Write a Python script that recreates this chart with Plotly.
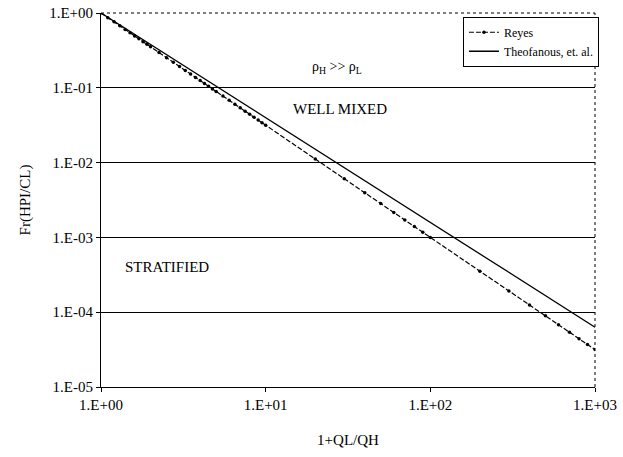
import plotly.graph_objects as go

# Reyes correlation: flow ratio vs. Froude-type number
reyes_x = [1.0, 1.1, 1.2, 1.3, 1.4, 1.5, 1.6, 1.7, 1.8, 1.9, 2.0,
           2.25, 2.5, 2.75, 3.0, 3.25, 3.5, 3.75, 4.0, 4.25, 4.5, 4.75,
           5.0, 5.5, 6.0, 6.5, 7.0, 7.5, 8.0, 8.5, 9.0, 9.5, 10,
           20, 30, 40, 50, 60, 70, 80, 90, 100,
           200, 300, 400, 500, 600, 700, 800, 900, 1000]
reyes_y = [1.0, 0.867, 0.761, 0.675, 0.604, 0.544, 0.494, 0.451, 0.414, 0.382, 0.354,
           0.296, 0.253, 0.219, 0.1925, 0.1707, 0.1527, 0.1377, 0.125, 0.1141, 0.1048, 0.0966,
           0.0894, 0.0775, 0.0680, 0.0603, 0.0540, 0.0487, 0.0442, 0.0404, 0.0370, 0.0342, 0.0316,
           0.01118, 0.00609, 0.00395, 0.00283, 0.00215, 0.00171, 0.00140, 0.00117, 0.00100,
           0.000354, 0.000192, 0.000125, 0.0000894, 0.0000680, 0.0000540, 0.0000442, 0.0000370, 0.0000316]

# Theofanous et al. correlation
theo_x = [1, 2, 5, 10, 20, 50, 100, 200, 500, 1000]
theo_y = [1.0, 0.379, 0.105, 0.0398, 0.0151, 0.00418, 0.00158, 0.000602, 0.000167, 0.0000631]

y_ticks = [1, 1e-1, 1e-2, 1e-3, 1e-4, 1e-5]
y_labels = ["1.E+00", "1.E-01", "1.E-02", "1.E-03", "1.E-04", "1.E-05"]
x_ticks = [1, 10, 100, 1000]
x_labels = ["1.E+00", "1.E+01", "1.E+02", "1.E+03"]

FONT = "Liberation Serif"

fig = go.Figure()
fig.add_trace(go.Scatter(
    x=reyes_x, y=reyes_y, name="Reyes", mode="lines+markers",
    line=dict(color="black", width=1.2, dash="5px,2px"),
    marker=dict(color="black", size=3.5, symbol="circle"),
))
fig.add_trace(go.Scatter(
    x=theo_x, y=theo_y, name="Theofanous, et. al.", mode="lines",
    line=dict(color="black", width=1.3),
))

fig.update_xaxes(
    type="log", range=[0, 3], tickvals=x_ticks, ticktext=x_labels,
    showgrid=False, showline=True, linecolor="black", linewidth=1,
    ticks="outside", ticklen=4, tickcolor="black",
    tickfont=dict(family=FONT, size=15, color="black"),
    title=dict(text="1+QL/QH", font=dict(family=FONT, size=15, color="black"), standoff=22),
    zeroline=False, automargin=False,
)
fig.update_yaxes(
    type="log", range=[-5, 0], tickvals=y_ticks, ticktext=y_labels,
    showgrid=True, gridcolor="black", gridwidth=1,
    showline=True, linecolor="black", linewidth=1,
    ticks="outside", ticklen=4, tickcolor="black",
    tickfont=dict(family=FONT, size=15, color="black"),
    title=dict(text="Fr(HPI/CL)", font=dict(family=FONT, size=15, color="black"), standoff=14),
    zeroline=False, automargin=False,
)

# dotted frame along the top and right edges of the plotting area
fig.add_shape(type="line", xref="paper", yref="paper", x0=0, x1=1, y0=1, y1=1,
              line=dict(color="black", width=1, dash="dot"))
fig.add_shape(type="line", xref="paper", yref="paper", x0=1, x1=1, y0=0, y1=1,
              line=dict(color="black", width=1, dash="dot"))

fig.add_annotation(x=1.436, y=-0.733, xref="x", yref="y", showarrow=False,
                   text="ρ<sub>H</sub> >> ρ<sub>L</sub>",
                   font=dict(family=FONT, size=14, color="black"))
fig.add_annotation(x=1.45, y=-1.29, xref="x", yref="y", showarrow=False,
                   text="WELL MIXED", font=dict(family=FONT, size=15, color="black"))
fig.add_annotation(x=0.4, y=-3.4, xref="x", yref="y", showarrow=False,
                   text="STRATIFIED", font=dict(family=FONT, size=15, color="black"))

fig.update_layout(
    width=623, height=457,
    margin=dict(l=101, r=28, t=13, b=70),
    paper_bgcolor="white", plot_bgcolor="white",
    showlegend=True,
    legend=dict(
        x=1.008, y=0.99, xanchor="right", yanchor="top",
        bgcolor="white", bordercolor="black", borderwidth=1,
        font=dict(family=FONT, size=12, color="black"),
        itemwidth=30, tracegroupgap=0,
    ),
)

fig.write_html("out.html")
